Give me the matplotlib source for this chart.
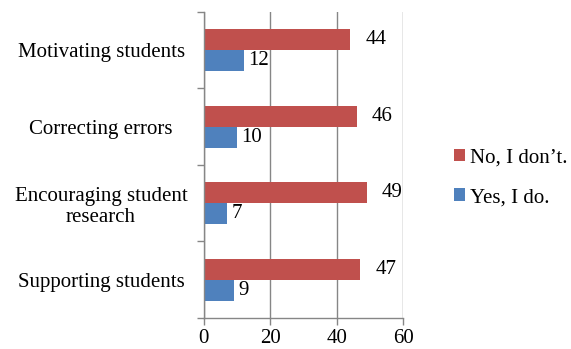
import matplotlib
matplotlib.use("Agg")
import matplotlib.pyplot as plt
import numpy as np

categories = ["Supporting students", "Encouraging student\nresearch",
              "Correcting errors", "Motivating students"]
no_values = [47, 49, 46, 44]
yes_values = [9, 7, 10, 12]
series_names = ["No, I don\u2019t.", "Yes, I do."]
x_ticks = [0, 20, 40, 60]

plt.rcParams["font.family"] = ["Liberation Serif", "DejaVu Serif"]

RED = "#C0504D"
BLUE = "#4F81BD"
AXIS = "#868686"
FS = 15

fig = plt.figure(figsize=(5.71, 3.49), dpi=100)
ax = fig.add_axes([0.357, 0.089, 0.349, 0.877])

y = np.arange(len(categories))
h = 0.275
ax.barh(y + h / 2, no_values, height=h, color=RED, label=series_names[0])
ax.barh(y - h / 2, yes_values, height=h, color=BLUE, label=series_names[1])

for yi, v in zip(y, no_values):
    ax.annotate(str(v), (v, yi + h / 2), xytext=(11, 0), textcoords="offset points",
                va="center", ha="left", fontsize=FS)
for yi, v in zip(y, yes_values):
    ax.annotate(str(v), (v, yi - h / 2), xytext=(3, 0), textcoords="offset points",
                va="center", ha="left", fontsize=FS)

ax.set_xlim(0, 60)
ax.set_ylim(-0.5, len(categories) - 0.5)
ax.set_xticks(x_ticks)
ax.set_xticklabels([str(t) for t in x_ticks], fontsize=FS)

# category labels centered on groups, tick marks on group boundaries
ax.set_yticks(y)
ax.set_yticklabels(categories, fontsize=FS, ha="center", multialignment="center",
                   linespacing=1.15)
ax.tick_params(axis="y", length=0, pad=74)
ax.set_yticks(np.arange(len(categories) + 1) - 0.5, minor=True)
ax.tick_params(axis="y", which="minor", length=5, color=AXIS, width=1)

ax.tick_params(axis="x", length=5, color=AXIS, width=1, pad=3)
ax.xaxis.grid(True, color=AXIS, linewidth=1)
ax.set_axisbelow(True)

for s in ["top", "right"]:
    ax.spines[s].set_visible(False)
for s in ["left", "bottom"]:
    ax.spines[s].set_color(AXIS)
    ax.spines[s].set_linewidth(1)

leg = fig.legend(loc="center left", bbox_to_anchor=(0.787, 0.491), frameon=False,
                 fontsize=FS, handlelength=0.55, handleheight=0.55, handletextpad=0.25,
                 labelspacing=1.0, borderaxespad=0.0, borderpad=0.2)

fig.savefig("out.png", dpi=100)
